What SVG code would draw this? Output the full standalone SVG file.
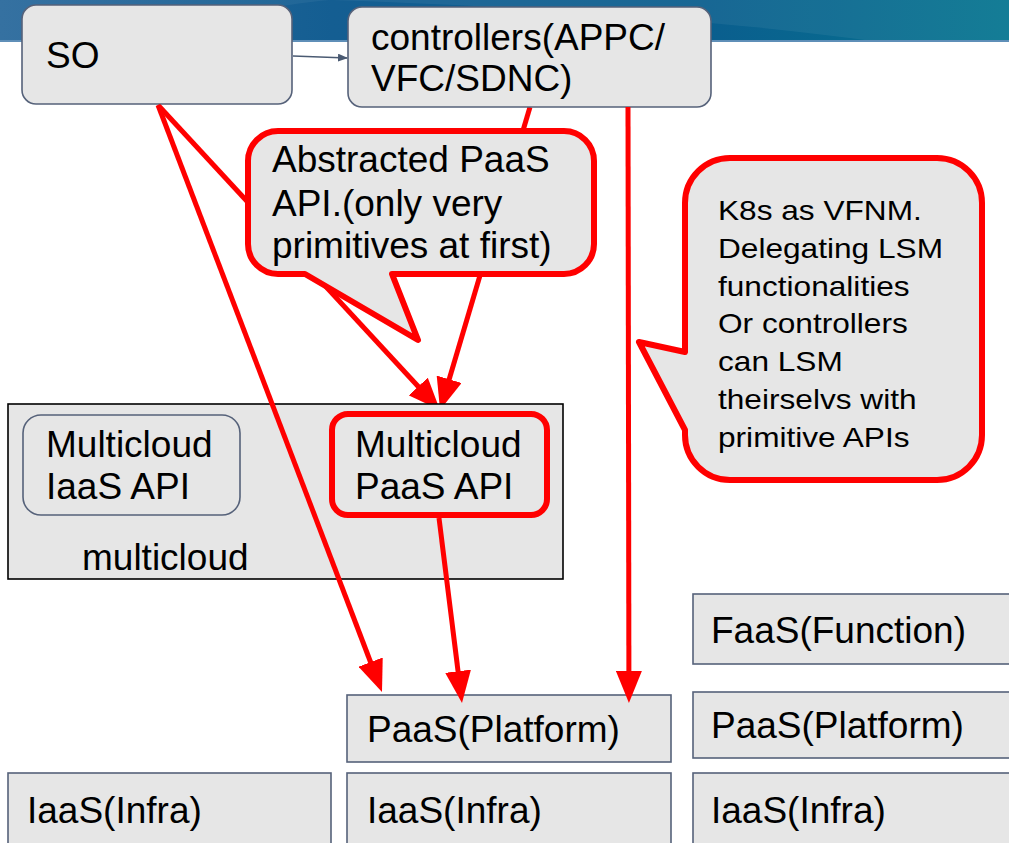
<svg xmlns="http://www.w3.org/2000/svg" width="1009" height="843" viewBox="0 0 1009 843">
  <style>
    text { font-family: "Liberation Sans", Arial, sans-serif; fill: #000; }
    .t36 { font-size: 37px; }
    .t28 { font-size: 28.5px; }
    .box { fill: #e6e6e6; stroke: #56627a; stroke-width: 1.6; }
    .container { fill: #e6e6e6; stroke: #000; stroke-width: 1.6; }
    .callout { fill: #e6e6e6; stroke: #ff0000; stroke-width: 6; stroke-linejoin: round; }
    .red { fill: none; stroke: #ff0000; stroke-width: 5; }
  </style>
  <defs>
    <linearGradient id="band" x1="0" y1="0" x2="1" y2="0">
      <stop offset="0" stop-color="#2b6a9c"/>
      <stop offset="0.33" stop-color="#145e92"/>
      <stop offset="0.7" stop-color="#0a5e8e"/>
      <stop offset="1" stop-color="#067590"/>
    </linearGradient>
    <marker id="redHead" markerUnits="userSpaceOnUse" markerWidth="32" markerHeight="26" viewBox="0 0 32 26" refX="2" refY="13" orient="auto">
      <path d="M0,0 L32,13 L0,26 Z" fill="#ff0000"/>
    </marker>
    <marker id="greyHead" markerUnits="userSpaceOnUse" markerWidth="10" markerHeight="8" viewBox="0 0 10 8" refX="9" refY="4" orient="auto">
      <path d="M0,0 L10,4 L0,8 Z" fill="#4a5a72"/>
    </marker>
  </defs>

  <!-- header band -->
  <g id="header">
    <rect x="0" y="0" width="1009" height="42" fill="url(#band)"/>
    <path d="M330,0 C520,6 720,20 880,42 L1009,42 L1009,0 Z" fill="#ffffff" opacity="0.06"/>
    <path d="M0,0 L330,0 C250,8 200,22 160,42 L0,42 Z" fill="#ffffff" opacity="0.05"/>
    <rect x="0" y="40" width="1009" height="2" fill="#5f8fb8"/>
  </g>

  <!-- connectors that pass behind the callout -->
  <g id="connectors-back">
    <line class="red" x1="158" y1="105" x2="419.6" y2="388" marker-end="url(#redHead)"/>
    <line class="red" x1="530" y1="107" x2="448.6" y2="381.2" marker-end="url(#redHead)"/>
  </g>

  <!-- top nodes -->
  <g id="node-so">
    <rect class="box" x="22" y="5" width="270" height="99" rx="14"/>
    <text class="t36" x="46" y="68">SO</text>
  </g>
  <g id="node-controllers">
    <rect class="box" x="348" y="7" width="363" height="100" rx="14"/>
    <text class="t36" x="371" y="50">controllers(APPC/</text>
    <text class="t36" x="371" y="91">VFC/SDNC)</text>
  </g>

  <!-- multicloud container -->
  <g id="node-multicloud">
    <rect class="container" x="8" y="404" width="555" height="175"/>
    <text class="t36" x="82" y="570">multicloud</text>
  </g>
  <g id="node-mc-iaas">
    <rect class="box" x="23" y="415" width="217" height="100" rx="18"/>
    <text class="t36" x="46" y="457">Multicloud</text>
    <text class="t36" x="46" y="499">IaaS API</text>
  </g>
  <g id="node-mc-paas">
    <rect x="332" y="414" width="215" height="101" rx="16" fill="#e6e6e6" stroke="#ff0000" stroke-width="6"/>
    <text class="t36" x="355" y="457">Multicloud</text>
    <text class="t36" x="355" y="499">PaaS API</text>
  </g>

  <!-- layer stacks -->
  <g id="node-faas-right">
    <rect class="box" x="693" y="594" width="330" height="70"/>
    <text class="t36" x="711" y="643">FaaS(Function)</text>
  </g>
  <g id="node-paas-mid">
    <rect class="box" x="347" y="695" width="324" height="67"/>
    <text class="t36" x="367" y="742">PaaS(Platform)</text>
  </g>
  <g id="node-paas-right">
    <rect class="box" x="693" y="692" width="330" height="66"/>
    <text class="t36" x="711" y="738">PaaS(Platform)</text>
  </g>
  <g id="node-iaas-left">
    <rect class="box" x="8" y="773" width="323" height="80"/>
    <text class="t36" x="27" y="823">IaaS(Infra)</text>
  </g>
  <g id="node-iaas-mid">
    <rect class="box" x="347" y="773" width="324" height="80"/>
    <text class="t36" x="367" y="823">IaaS(Infra)</text>
  </g>
  <g id="node-iaas-right">
    <rect class="box" x="693" y="773" width="330" height="80"/>
    <text class="t36" x="711" y="823">IaaS(Infra)</text>
  </g>

  <!-- front connectors -->
  <g id="connectors">
    <line x1="293" y1="56" x2="347" y2="58" stroke="#4a5a72" stroke-width="1.6" marker-end="url(#greyHead)"/>
    <line class="red" x1="158" y1="105" x2="371.3" y2="664" marker-end="url(#redHead)"/>
    <line class="red" x1="439" y1="518" x2="458.3" y2="673.2" marker-end="url(#redHead)"/>
    <line class="red" x1="628" y1="107" x2="628.9" y2="673" marker-end="url(#redHead)"/>
  </g>

  <!-- callouts -->
  <g id="callout-paas">
    <path class="callout" d="M278,131 H564 A30,30 0 0 1 594,161 V244 A30,30 0 0 1 564,274 H392 L418,340 L305,274 H278 A30,30 0 0 1 248,244 V161 A30,30 0 0 1 278,131 Z"/>
    <text class="t36" x="272" y="172">Abstracted PaaS</text>
    <text class="t36" x="272" y="216">API.(only very</text>
    <text class="t36" x="272" y="258">primitives at first)</text>
  </g>
  <g id="callout-k8s">
    <path class="callout" d="M730,158 H937 A45,45 0 0 1 982,203 V435 A45,45 0 0 1 937,480 H730 A45,45 0 0 1 685,435 V430 L639,342 L685,352 V203 A45,45 0 0 1 730,158 Z"/>
    <g transform="matrix(1.11,0,0,1,718,0)">
      <text class="t28" x="0" y="220">K8s as VFNM.</text>
      <text class="t28" x="0" y="258">Delegating LSM</text>
      <text class="t28" x="0" y="296">functionalities</text>
      <text class="t28" x="0" y="333">Or controllers</text>
      <text class="t28" x="0" y="371">can LSM</text>
      <text class="t28" x="0" y="409">theirselvs with</text>
      <text class="t28" x="0" y="447">primitive APIs</text>
    </g>
  </g>
</svg>
